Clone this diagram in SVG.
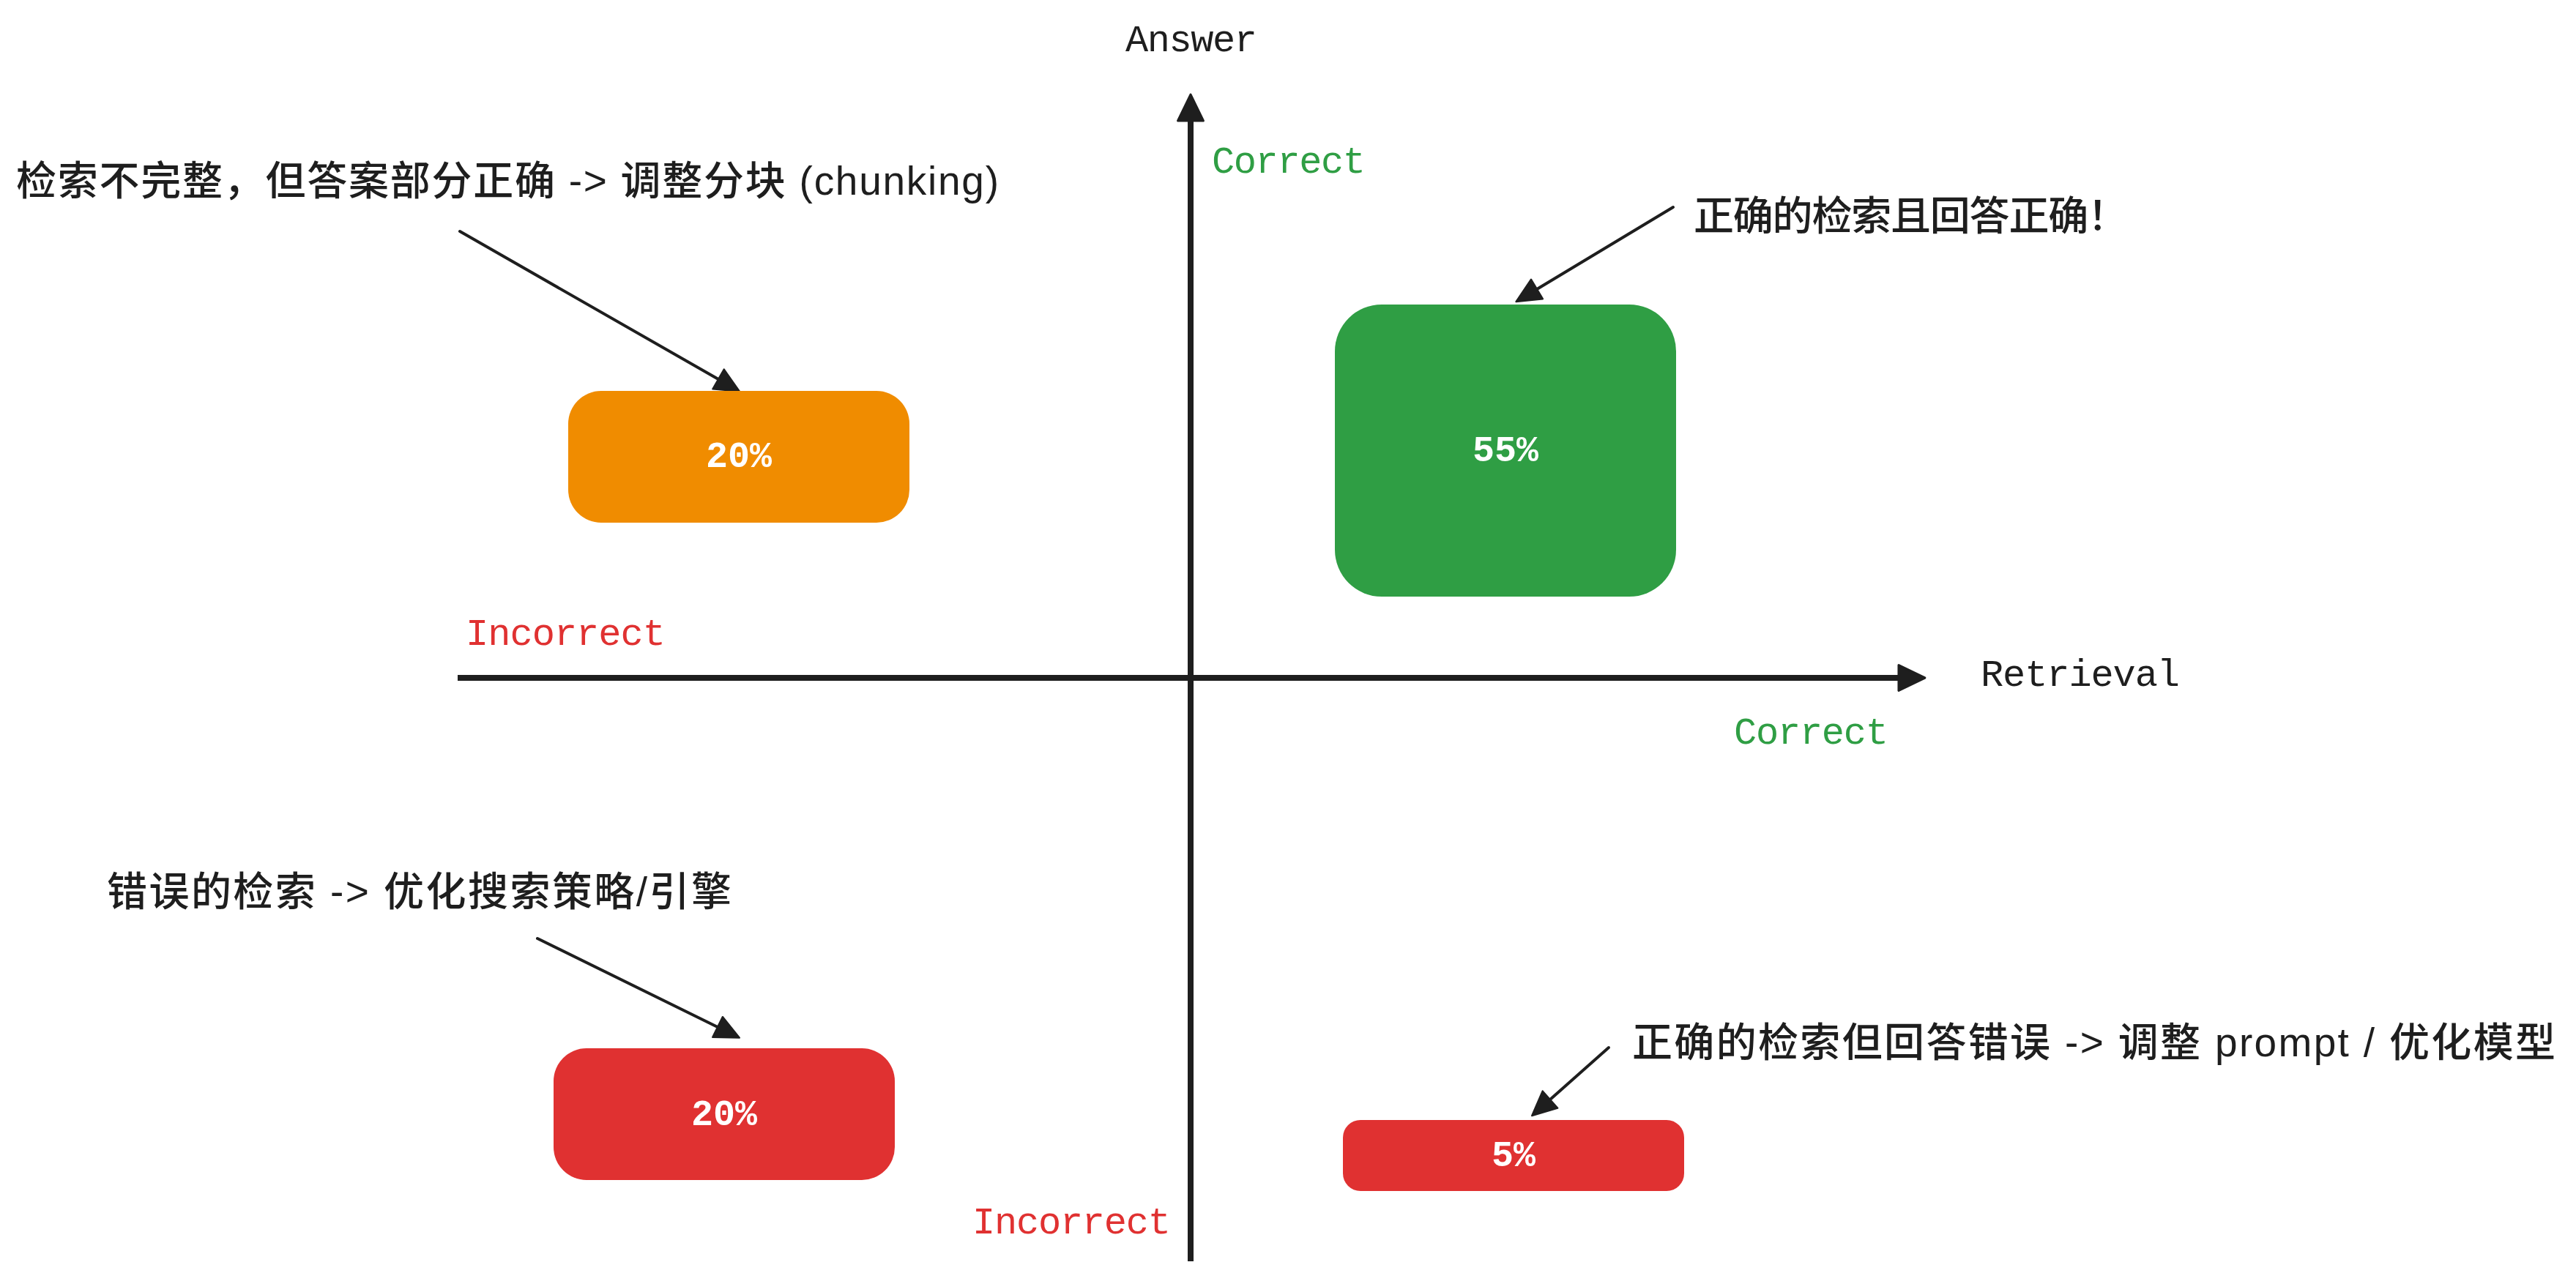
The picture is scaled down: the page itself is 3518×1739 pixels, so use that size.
<svg xmlns="http://www.w3.org/2000/svg" width="3518" height="1739" viewBox="0 0 3518 1739">
  <style>
    .bg { fill: #ffffff; }
    .lbl { font-family: "Liberation Mono", "DejaVu Sans Mono", monospace; font-size: 52px; }
    .ink { fill: #1e1e1e; }
    .green { fill: #2f9e44; }
    .red { fill: #e03131; }
    .pct { font-family: "Liberation Mono", "DejaVu Sans Mono", monospace; font-size: 50px; font-weight: bold; fill: #ffffff; text-anchor: middle; }
    .note { font-family: "Liberation Sans", "Noto Sans CJK SC", sans-serif; font-size: 55px; font-weight: 500; fill: #1e1e1e; }
    .axis { stroke: #1e1e1e; stroke-width: 8; fill: none; stroke-linecap: butt; }
    .pointer { stroke: #1e1e1e; stroke-width: 4; fill: none; stroke-linecap: round; }
    .box-orange { fill: #f08c00; }
    .box-green { fill: #2f9e44; }
    .box-red { fill: #e03131; }
  </style>
  <defs>
    <marker id="axisHead" markerUnits="userSpaceOnUse" markerWidth="44" markerHeight="44" viewBox="-4 -21 43 42" refX="0" refY="0" orient="auto" overflow="visible">
      <path d="M0,-17 L35,0 L0,17 Z" fill="#1e1e1e" stroke="#1e1e1e" stroke-width="3" stroke-linejoin="round"/>
    </marker>
    <marker id="noteHead" markerUnits="userSpaceOnUse" markerWidth="40" markerHeight="40" viewBox="-3 -17 36 34" refX="0" refY="0" orient="auto" overflow="visible">
      <path d="M0,-14 L30,0 L0,14 Z" fill="#1e1e1e" stroke="#1e1e1e" stroke-width="2" stroke-linejoin="round"/>
    </marker>
  </defs>

  <rect class="bg" x="0" y="0" width="3518" height="1739"/>

  <g id="connectors">
    <line id="axis-answer" class="axis" x1="1626" y1="1723" x2="1626" y2="165" marker-end="url(#axisHead)"/>
    <line id="axis-retrieval" class="axis" x1="625" y1="926" x2="2593" y2="926" marker-end="url(#axisHead)"/>
    <line class="pointer" x1="628" y1="316" x2="981" y2="518" marker-end="url(#noteHead)"/>
    <line class="pointer" x1="2285" y1="283" x2="2099" y2="395" marker-end="url(#noteHead)"/>
    <line class="pointer" x1="734" y1="1282" x2="980" y2="1403" marker-end="url(#noteHead)"/>
    <line class="pointer" x1="2197" y1="1431" x2="2117" y2="1502" marker-end="url(#noteHead)"/>
  </g>

  <g id="axis-labels">
    <text id="label-answer" class="lbl ink" x="1537" y="70" textLength="180">Answer</text>
    <text id="label-correct-y" class="lbl green" x="1655" y="236" textLength="210">Correct</text>
    <text id="label-incorrect-x" class="lbl red" x="636" y="881" textLength="273">Incorrect</text>
    <text id="label-retrieval" class="lbl ink" x="2705" y="937" textLength="272">Retrieval</text>
    <text id="label-correct-x" class="lbl green" x="2368" y="1016" textLength="211">Correct</text>
    <text id="label-incorrect-y" class="lbl red" x="1328" y="1685" textLength="271">Incorrect</text>
  </g>

  <g id="node-partial">
    <rect class="box-orange" x="776" y="534" width="466" height="180" rx="45" ry="45"/>
    <text class="pct" x="1009" y="638">20%</text>
  </g>

  <g id="node-correct">
    <rect class="box-green" x="1823" y="416" width="466" height="399" rx="64" ry="64"/>
    <text class="pct" x="2056" y="630">55%</text>
  </g>

  <g id="node-wrong-retrieval">
    <rect class="box-red" x="756" y="1432" width="466" height="180" rx="45" ry="45"/>
    <text class="pct" x="989" y="1537">20%</text>
  </g>

  <g id="node-wrong-answer">
    <rect class="box-red" x="1834" y="1530" width="466" height="97" rx="24" ry="24"/>
    <text class="pct" x="2067" y="1593">5%</text>
  </g>

  <g id="note-top-left">
    <text class="note" x="22" y="266" textLength="1342">检索不完整，但答案部分正确 -&gt; 调整分块 (chunking)</text>
  </g>
  <g id="note-top-right">
    <text class="note" x="2313" y="314" textLength="593">正确的检索且回答正确！</text>
  </g>
  <g id="note-bottom-left">
    <text class="note" x="146" y="1237" textLength="853">错误的检索 -&gt; 优化搜索策略/引擎</text>
  </g>
  <g id="note-bottom-right">
    <text class="note" x="2229" y="1443" textLength="1261">正确的检索但回答错误 -&gt; 调整 prompt / 优化模型</text>
  </g>
</svg>
